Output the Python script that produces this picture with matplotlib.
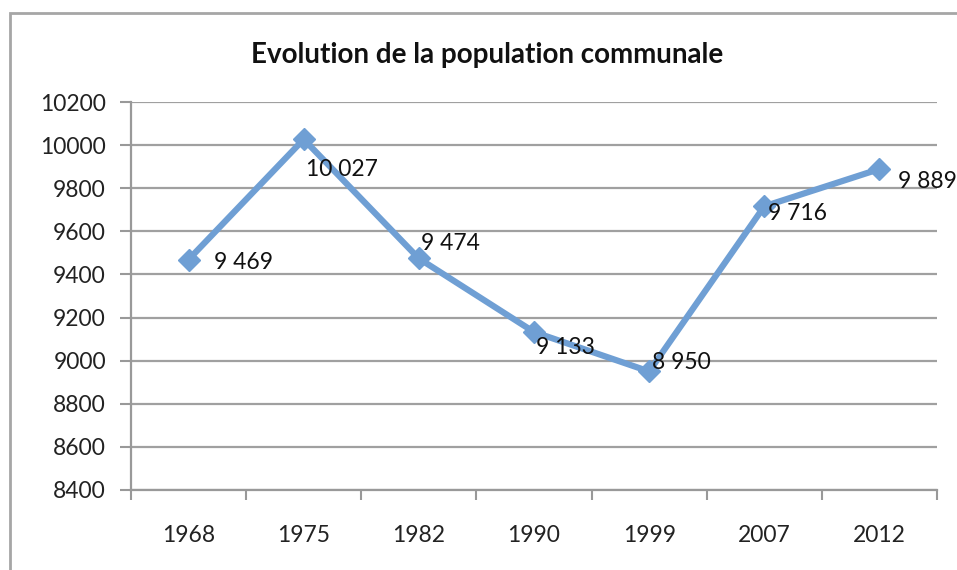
import matplotlib
matplotlib.use("Agg")
import matplotlib.pyplot as plt
from matplotlib.patches import Rectangle
import numpy as np

years = ["1968", "1975", "1982", "1990", "1999", "2007", "2012"]
population = [9469, 10027, 9474, 9133, 8950, 9716, 9889]
value_labels = ["9 469", "10 027", "9 474", "9 133", "8 950", "9 716", "9 889"]
y_ticks = [8400, 8600, 8800, 9000, 9200, 9400, 9600, 9800, 10000, 10200]
title = "Evolution de la population communale"

# label offsets in pixels (dx, dy downward)
label_offsets = [(25, 3), (2, 30), (2, -15), (2, 16), (3, -9), (4, 7), (19, 12)]

plt.rcParams['font.family'] = ['Lato', 'DejaVu Sans']

W, H, DPI = 957, 570, 100
fig = plt.figure(figsize=(W / DPI, H / DPI), dpi=DPI)
fig.patch.set_facecolor("white")

# outer frame
fig.patches.append(Rectangle((10 / W, -0.05), 1.2, 1 - 13 / H + 0.05,
                             transform=fig.transFigure, fill=False,
                             edgecolor="#a6a6a6", linewidth=2))

ax = fig.add_axes([131 / W, 1 - 490 / H, (937 - 131) / W, (490 - 102) / H])
x = np.arange(len(years))
ax.set_xlim(-0.5, len(years) - 0.5)
ax.set_ylim(8400, 10200)
ax.set_yticks(y_ticks)
ax.set_yticklabels([str(v) for v in y_ticks], fontsize=16.5, color="#222222")
ax.set_xticks(x)
ax.set_xticklabels(years, fontsize=16.5, color="#222222")
ax.tick_params(axis='x', length=0, pad=25)
ax.tick_params(axis='y', length=8, width=1.5, color="#999999", pad=10)
ax.set_xticks(np.arange(len(years) + 1) - 0.5, minor=True)
ax.tick_params(axis='x', which='minor', length=7, width=1.5, color="#999999", direction='out')

ax.grid(axis='y', color="#a0a0a0", linewidth=1.6)
ax.set_axisbelow(True)
for s in ["top", "right"]:
    ax.spines[s].set_visible(False)
ax.spines["left"].set_color("#999999")
ax.spines["left"].set_linewidth(1.6)
ax.spines["bottom"].set_color("#999999")
ax.spines["bottom"].set_linewidth(1.6)

ax.plot(x, population, color="#6f9fd4", linewidth=4.5, marker="D",
        markersize=11, markerfacecolor="#6f9fd4", markeredgecolor="#6f9fd4",
        zorder=3, clip_on=False)

for xi, yi, lab, (dx, dy) in zip(x, population, value_labels, label_offsets):
    ax.annotate(lab, (xi, yi), xytext=(dx * 72 / DPI, -dy * 72 / DPI),
                textcoords="offset points", ha="left", va="center",
                fontsize=16.5, color="#111111", zorder=4)

fig.text(487 / W, 1 - 55 / H, title, ha="center", va="center",
         fontsize=20, fontweight="bold", color="#111111")

fig.savefig("out.png", dpi=DPI, facecolor="white")
